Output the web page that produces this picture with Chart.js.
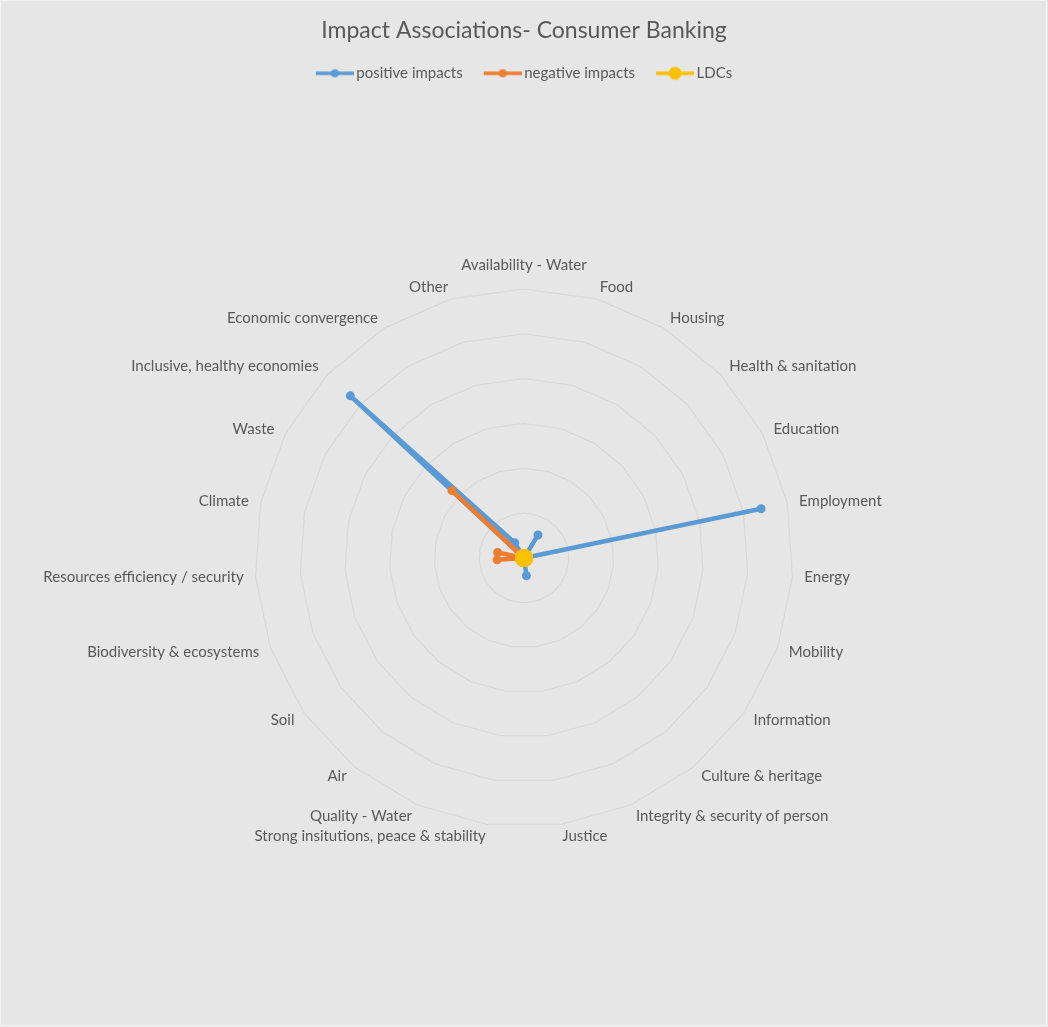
<!DOCTYPE html>
<html>
<head>
<meta charset="utf-8">
<title>Impact Associations- Consumer Banking</title>
<script src="https://cdn.jsdelivr.net/npm/chart.js@4.4.1/dist/chart.umd.min.js"></script>
<style>
  html, body { margin: 0; padding: 0; background: #ffffff; }
  #impact-chart { display: block; }
</style>
</head>
<body>
<canvas id="impact-chart" width="1048" height="1027"></canvas>
<script>
// categories, clockwise from the top
const categories = [
    "Availability - Water", "Food", "Housing", "Health & sanitation", "Education",
    "Employment", "Energy", "Mobility", "Information", "Culture & heritage",
    "Integrity & security of person", "Justice", "Strong insitutions, peace & stability",
    "Quality - Water", "Air", "Soil", "Biodiversity & ecosystems",
    "Resources efficiency / security", "Climate", "Waste",
    "Inclusive, healthy economies", "Economic convergence", "Other"
];

// values
const positiveImpacts = [0, 0, 3, 0, 0, 27, 0, 0, 0, 0, 0, 2, 0, 0, 0, 0, 0, 0, 0, 0, 26.5, 2, 0];
const negativeImpacts = [0, 0, 0, 0, 0, 0, 0, 0, 0, 0, 0, 0, 0, 0, 0, 0, 0, 3, 3, 0, 11, 0, 0];
const ldcs = [0, 0, 0, 0, 0, 0, 0, 0, 0, 0, 0, 0, 0, 0, 0, 0, 0, 0, 0, 0, 0, 0, 0];

const seriesNames = ["positive impacts", "negative impacts", "LDCs"];
const seriesColors = ["#5B9BD5", "#ED7D31", "#FFC000"];

const axisMax = 30;
const axisStep = 5;

const fontFamily = "Lato, 'Liberation Sans', sans-serif";
const textColor = "#595959";

// petit trait + rond pour la légende (comme Excel)
function legendSwatch(color, dotRadius) {
    const c = document.createElement("canvas");
    c.width = 43;
    c.height = 16;
    const g = c.getContext("2d");
    g.strokeStyle = color;
    g.lineWidth = 3.5;
    g.beginPath();
    g.moveTo(5, 8);
    g.lineTo(43, 8);
    g.stroke();
    g.fillStyle = color;
    g.beginPath();
    g.arc(24, 8, dotRadius, 0, Math.PI * 2);
    g.fill();
    return c;
}
const swatches = [
    legendSwatch(seriesColors[0], 4),
    legendSwatch(seriesColors[1], 4),
    legendSwatch(seriesColors[2], 6.5)
];

// fond gris + bordure
const background = {
    id: "background",
    beforeDraw(chart) {
        const ctx = chart.ctx;
        ctx.save();
        ctx.fillStyle = "#E7E6E6";
        ctx.fillRect(0, 0, chart.width, chart.height);
        ctx.strokeStyle = "#F2F2F2";
        ctx.lineWidth = 1;
        ctx.strokeRect(0.5, 0.5, chart.width - 2, chart.height - 2);
        ctx.restore();
    }
};

// libellés des catégories placés à la manière d'Excel
const categoryLabels = {
    id: "categoryLabels",
    afterDraw(chart) {
        const scale = chart.scales.r;
        const ctx = chart.ctx;
        const n = categories.length;
        ctx.save();
        ctx.font = "15px " + fontFamily;
        ctx.fillStyle = textColor;
        ctx.textBaseline = "middle";
        categories.forEach((label, i) => {
            const p = scale.getPointPosition(i, scale.drawingArea + 12);
            const deg = i * 360 / n;
            let y = p.y;
            if (deg === 0) {
                ctx.textAlign = "center";
                y -= 12;
            } else if (deg < 180) {
                ctx.textAlign = "left";
            } else {
                ctx.textAlign = "right";
            }
            ctx.fillText(label, p.x, y);
        });
        ctx.restore();
    }
};

function makeDataset(idx, values, pointRadius) {
    return {
        label: seriesNames[idx],
        data: values,
        borderColor: seriesColors[idx],
        backgroundColor: seriesColors[idx],
        pointBackgroundColor: seriesColors[idx],
        pointBorderColor: seriesColors[idx],
        pointBorderWidth: 0,
        pointRadius: pointRadius,
        borderWidth: 4.5,
        borderJoinStyle: "round",
        borderCapStyle: "round",
        fill: false,
        order: 3 - idx
    };
}

const ctx = document.getElementById("impact-chart").getContext("2d");
new Chart(ctx, {
    type: "radar",
    data: {
        labels: categories,
        datasets: [
            makeDataset(0, positiveImpacts, 4.5),
            makeDataset(1, negativeImpacts, 4.5),
            makeDataset(2, ldcs, 9)
        ]
    },
    options: {
        responsive: false,
        animation: false,
        events: [],
        layout: {
            padding: { top: 10, left: 255, right: 255, bottom: 1 }
        },
        plugins: {
            title: {
                display: true,
                text: "Impact Associations- Consumer Banking",
                color: textColor,
                font: { family: fontFamily, size: 23, weight: "normal" },
                padding: { top: 7.2, bottom: 0 }
            },
            legend: {
                display: true,
                position: "top",
                labels: {
                    usePointStyle: true,
                    pointStyleWidth: 33,
                    padding: 21,
                    color: textColor,
                    font: { family: fontFamily, size: 15 },
                    generateLabels(chart) {
                        return chart.data.datasets.map((ds, i) => ({
                            text: ds.label,
                            pointStyle: swatches[i],
                            fillStyle: ds.borderColor,
                            strokeStyle: ds.borderColor,
                            lineWidth: 0,
                            fontColor: textColor,
                            hidden: false,
                            datasetIndex: i
                        }));
                    }
                }
            },
            tooltip: { enabled: false }
        },
        scales: {
            r: {
                min: 0,
                max: axisMax,
                ticks: { display: false, stepSize: axisStep },
                grid: { color: "#D9D9D9", lineWidth: 1.25 },
                angleLines: { display: false },
                pointLabels: { display: false }
            }
        }
    },
    plugins: [background, categoryLabels]
});
</script>
</body>
</html>
